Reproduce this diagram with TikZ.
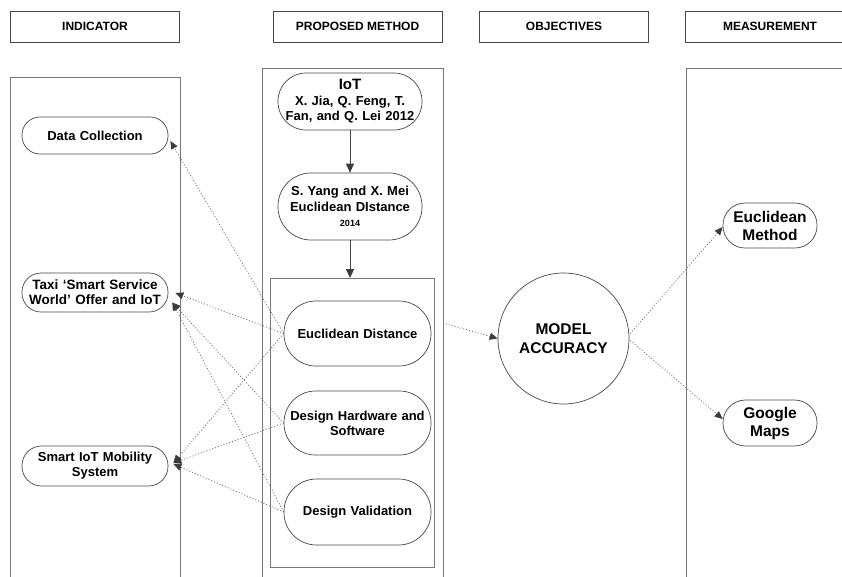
\documentclass[tikz,border=0pt]{standalone}
\usepackage{fontspec}
\setmainfont{Liberation Sans}
\usetikzlibrary{arrows.meta}
\definecolor{edge}{RGB}{70,70,70}
\definecolor{colline}{RGB}{120,120,120}
\definecolor{dotc}{RGB}{110,110,110}
\definecolor{tipc}{RGB}{60,60,60}
\tikzset{
  hdr/.style={draw=edge, line width=0.7pt, rectangle, minimum width=169pt, minimum height=31pt, inner sep=0pt, font=\fontsize{12}{14}\selectfont\bfseries},
  colbox/.style={draw=colline, line width=1.1pt, rectangle, anchor=north west, inner sep=0pt},
  pill/.style={draw=edge, line width=0.7pt, rectangle, inner sep=0pt, align=center, font=\fontsize{13}{15}\selectfont\bfseries},
  dotarrow/.style={draw=dotc, line width=0.8pt, dash pattern=on 1pt off 2pt, -{Triangle[length=8pt,width=7pt,fill=tipc,color=tipc]}},
  solidarrow/.style={draw=edge, line width=0.8pt, -{Triangle[length=9pt,width=8pt,fill=tipc,color=tipc]}}
}
\begin{document}
\begin{tikzpicture}[x=1pt,y=-1pt]
\useasboundingbox (0,0) rectangle (842,576);
\clip (0,0) rectangle (842,576);
% headers
\node[hdr] (h1) at (95,26.5) {INDICATOR};
\node[hdr] (h2) at (357.5,26.5) {PROPOSED METHOD};
\node[hdr] (h3) at (564,26.5) {OBJECTIVES};
\node[hdr] (h4) at (770,26.5) {MEASUREMENT};
% columns
\node[colbox, minimum width=170pt, minimum height=540pt] (lcol) at (10,77) {};
\node[colbox, minimum width=181pt, minimum height=540pt] (mcol) at (262,68) {};
\node[colbox, minimum width=180pt, minimum height=540pt] (rcol) at (686,68) {};
\node[colbox, minimum width=164pt, minimum height=289pt] (inner) at (270,278) {};
% left nodes
\node[pill, text width=146pt, minimum height=37pt, rounded corners=18pt] (dc) at (95,135.5) {Data Collection};
\node[pill, text width=146pt, minimum height=39pt, rounded corners=19pt, font=\fontsize{13.5}{15}\selectfont\bfseries] (taxi) at (95,292.5) {Taxi ‘Smart Service\\World’ Offer and IoT};
\node[pill, text width=146pt, minimum height=40pt, rounded corners=19.5pt] (smart) at (95,466) {Smart IoT Mobility\\System};
% middle nodes
\node[pill, text width=144pt, minimum height=57pt, rounded corners=28pt, font=\fontsize{13}{15.5}\selectfont\bfseries] (iot) at (350,101.5) {{\fontsize{15}{16}\selectfont IoT}\\X. Jia, Q. Feng, T.\\Fan, and Q. Lei 2012};
\node[pill, text width=144pt, minimum height=67pt, rounded corners=33pt, font=\fontsize{13}{15.5}\selectfont\bfseries] (sy) at (350,206.5) {S. Yang and X. Mei\\Euclidean DIstance\\{\fontsize{9}{11}\selectfont 2014}};
\node[pill, text width=147pt, minimum height=65pt, rounded corners=32pt] (ed) at (357.5,333.5) {Euclidean Distance};
\node[pill, text width=147pt, minimum height=64pt, rounded corners=31.5pt] (dh) at (357.5,423) {Design Hardware and\\Software};
\node[pill, text width=147pt, minimum height=66pt, rounded corners=32.5pt] (dv) at (357.5,512) {Design Validation};
% objectives
\node[draw=edge, line width=0.7pt, circle, minimum size=131pt, inner sep=0pt, align=center, font=\fontsize{15.5}{19}\selectfont\bfseries] (ma) at (563.5,338.5) {MODEL\\ACCURACY};
% measurement
\node[pill, text width=94pt, minimum height=45pt, rounded corners=22pt, font=\fontsize{15.5}{18}\selectfont\bfseries] (em) at (770,225.5) {Euclidean\\Method};
\node[pill, text width=94pt, minimum height=46pt, rounded corners=22.5pt, font=\fontsize{15.5}{18}\selectfont\bfseries] (gm) at (770,423) {Google\\Maps};
\coordinate (edout) at (443,323);
% solid arrows
\draw[solidarrow] (iot.south) -- (sy.north);
\draw[solidarrow] (sy.south) -- (sy.south |- inner.north);
% dotted connectors to indicators
\draw[dotarrow] (ed.west) -- ([xshift=2pt,yshift=-5.5pt]dc.east);
\draw[dotarrow] (ed.west) -- ([xshift=7pt,yshift=-0.5pt]taxi.east);
\draw[dotarrow] (ed.west) -- ([xshift=5pt,yshift=3pt]smart.east);
\draw[dotarrow] (dh.west) -- ([xshift=4pt,yshift=-10pt]taxi.east);
\draw[dotarrow] (dh.west) -- ([xshift=5pt,yshift=3pt]smart.east);
\draw[dotarrow] (dv.west) -- ([xshift=4pt,yshift=-10pt]taxi.east);
\draw[dotarrow] (dv.west) -- ([xshift=5pt,yshift=2pt]smart.east);
% objectives and measurement
\draw[dotarrow] (edout) -- (ma.west);
\draw[dotarrow] ([xshift=1pt,yshift=5pt]ma.east) -- ([yshift=-1.5pt]em.west);
\draw[dotarrow] ([xshift=1pt,yshift=-2pt]ma.east) -- ([yshift=4pt]gm.west);
\end{tikzpicture}
\end{document}
